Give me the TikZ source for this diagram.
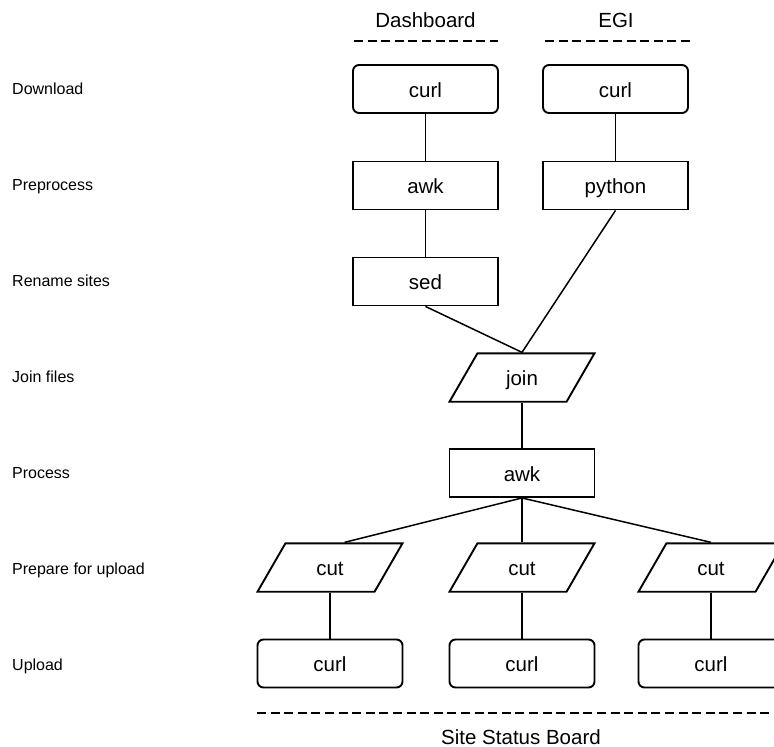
\documentclass[tikz,border=0pt]{standalone}
\usepackage{fontspec}
\setmainfont{Liberation Sans}
\usepackage{xcolor}
\usetikzlibrary{calc}
\usetikzlibrary{shapes.geometric}

\begin{document}
\begin{tikzpicture}[x=1pt, y=-1pt,
    box/.style={draw, line width=1.9pt, minimum width=145pt, minimum height=48pt, inner sep=0pt, font=\fontsize{20.5}{24}\selectfont, text height=19pt, text depth=2.4pt},
    roundbox/.style={box, rounded corners=6pt},
    slantbox/.style={box, trapezium, trapezium left angle=60, trapezium right angle=120, trapezium stretches body, inner ysep=13.5pt},
    link/.style={line width=1.5pt},
    sepline/.style={line width=1.8pt, dash pattern=on 9pt off 4.6pt},
    stage/.style={anchor=base west, font=\fontsize{16}{19}\selectfont, inner sep=0pt},
    source/.style={anchor=base, font=\fontsize{20.5}{24}\selectfont, inner sep=0pt}]
    \useasboundingbox (0,0) rectangle (774,747);
    \clip (0,0) rectangle (774,747);

    %STAGES
    \node[stage] (sDownload) at (12,94) {Download};
    \node[stage] (sPre) at (12,190) {Preprocess};
    \node[stage] (sRename) at (12,286) {Rename sites};
    \node[stage] (sJoin) at (12,382) {Join files};
    \node[stage] (sProcess) at (12,478) {Process};
    \node[stage] (sPrepare) at (12,574) {Prepare for upload};
    \node[stage] (sUpload) at (12,670) {Upload};

    %SOURCES
    \node[source] (dashTitle) at (425.5,27) {Dashboard};
    \node[source] (egiTitle) at (616,27) {EGI};
    \draw[sepline] (354,41) -- (498,41);
    \draw[sepline] (545,41) -- (690,41);

    %DASHBOARD
    \node[roundbox] (dashCurl) at (425.5,89) {curl};
    \node[box] (dashAwk) at (425.5,185.5) {awk};
    \node[box] (dashSed) at (425.5,281.5) {sed};

    %EGI
    \node[roundbox] (egiCurl) at (615.5,89) {curl};
    \node[box] (egiPython) at (615.5,185.5) {python};

    %JOIN + PROCESS
    \node[slantbox] (join) at (522,377.5) {join};
    \node[box] (process) at (522,473) {awk};

    %UPLOAD
    \node[slantbox] (cutA) at (330,567.5) {cut};
    \node[slantbox] (cutB) at (522,567.5) {cut};
    \node[slantbox] (cutC) at (711,567.5) {cut};
    \node[roundbox] (upA) at (330,663.5) {curl};
    \node[roundbox] (upB) at (522,663.5) {curl};
    \node[roundbox] (upC) at (711,663.5) {curl};

    %LINKS
    \draw[link] (dashCurl) -- (dashAwk);
    \draw[link] (dashAwk) -- (dashSed);
    \draw[link] (egiCurl) -- (egiPython);
    \draw[link] (dashSed.south) -- (join.center |- join.top side);
    \draw[link] (egiPython.south) -- (join.center |- join.top side);
    \draw[link] (join.center |- join.bottom side) -- (process.north);
    \draw[link] (process.south) -- (cutA.top side);
    \draw[link] (process.south) -- (cutB.center |- cutB.top side);
    \draw[link] (process.south) -- (cutC.center |- cutC.top side);
    \draw[link] (cutA.center |- cutA.bottom side) -- (upA.north);
    \draw[link] (cutB.center |- cutB.bottom side) -- (upB.north);
    \draw[link] (cutC.center |- cutC.bottom side) -- (upC.north);

    %SITE STATUS BOARD
    \draw[sepline] (257,713) -- (780,713);
    \node[source] (ssbTitle) at (521,744) {Site Status Board};

\end{tikzpicture}
\end{document}
